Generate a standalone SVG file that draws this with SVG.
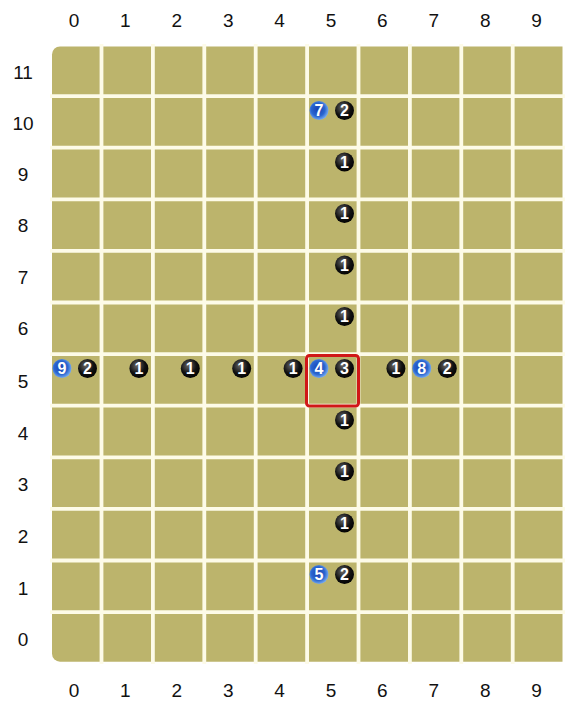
<svg xmlns="http://www.w3.org/2000/svg" width="565" height="701" viewBox="0 0 565 701">
<style>
.lbl{font-family:"Liberation Sans",Arial,sans-serif;font-size:19px;fill:#111;text-anchor:middle}
.gap{stroke:#fdfbe8;stroke-width:3.8}
.num{font-family:"Liberation Sans",Arial,sans-serif;font-size:16px;font-weight:bold;fill:#fff;text-anchor:middle}
.blk{fill:url(#gb)}
.blu{fill:url(#gu)}
</style>
<defs>
<radialGradient id="gb" cx="0.4" cy="0.35" r="0.7">
<stop offset="0" stop-color="#666"/>
<stop offset="0.6" stop-color="#111"/>
<stop offset="1" stop-color="#000"/>
</radialGradient>
<radialGradient id="gu" cx="0.45" cy="0.45" r="0.65">
<stop offset="0" stop-color="#1a40b0"/>
<stop offset="0.55" stop-color="#2a66d0"/>
<stop offset="1" stop-color="#9cccff"/>
</radialGradient>
</defs>
<rect width="565" height="701" fill="#fff"/>
<g id="board">
<path d="M60,46.5 H562.5 V661.7 H60 A8,8 0 0 1 52,653.7 V54.5 A8,8 0 0 1 60,46.5 Z" fill="#bcb46c"/>
<g class="gap">
<line x1="101.5" y1="44" x2="101.5" y2="664"/>
<line x1="152.9" y1="44" x2="152.9" y2="664"/>
<line x1="204.3" y1="44" x2="204.3" y2="664"/>
<line x1="255.7" y1="44" x2="255.7" y2="664"/>
<line x1="307.1" y1="44" x2="307.1" y2="664"/>
<line x1="358.5" y1="44" x2="358.5" y2="664"/>
<line x1="409.9" y1="44" x2="409.9" y2="664"/>
<line x1="461.3" y1="44" x2="461.3" y2="664"/>
<line x1="512.7" y1="44" x2="512.7" y2="664"/>
<line x1="50" y1="96.1" x2="565" y2="96.1"/>
<line x1="50" y1="147.7" x2="565" y2="147.7"/>
<line x1="50" y1="199.3" x2="565" y2="199.3"/>
<line x1="50" y1="250.9" x2="565" y2="250.9"/>
<line x1="50" y1="302.5" x2="565" y2="302.5"/>
<line x1="50" y1="354.1" x2="565" y2="354.1"/>
<line x1="50" y1="405.7" x2="565" y2="405.7"/>
<line x1="50" y1="457.3" x2="565" y2="457.3"/>
<line x1="50" y1="508.9" x2="565" y2="508.9"/>
<line x1="50" y1="560.5" x2="565" y2="560.5"/>
<line x1="50" y1="612.1" x2="565" y2="612.1"/>
</g>
</g>
<g id="col-labels-top">
<text class="lbl" x="74" y="27">0</text><text class="lbl" x="125.4" y="27">1</text><text class="lbl" x="176.8" y="27">2</text><text class="lbl" x="228.2" y="27">3</text><text class="lbl" x="279.6" y="27">4</text><text class="lbl" x="331" y="27">5</text><text class="lbl" x="382.4" y="27">6</text><text class="lbl" x="433.8" y="27">7</text><text class="lbl" x="485.2" y="27">8</text><text class="lbl" x="536.6" y="27">9</text>
</g>
<g id="col-labels-bottom">
<text class="lbl" x="74" y="697">0</text><text class="lbl" x="125.4" y="697">1</text><text class="lbl" x="176.8" y="697">2</text><text class="lbl" x="228.2" y="697">3</text><text class="lbl" x="279.6" y="697">4</text><text class="lbl" x="331" y="697">5</text><text class="lbl" x="382.4" y="697">6</text><text class="lbl" x="433.8" y="697">7</text><text class="lbl" x="485.2" y="697">8</text><text class="lbl" x="536.6" y="697">9</text>
</g>
<g id="row-labels">
<text class="lbl" x="23" y="79">11</text>
<text class="lbl" x="23" y="130">10</text>
<text class="lbl" x="23" y="181">9</text>
<text class="lbl" x="23" y="232">8</text>
<text class="lbl" x="23" y="284">7</text>
<text class="lbl" x="23" y="335">6</text>
<text class="lbl" x="23" y="388">5</text>
<text class="lbl" x="23" y="440">4</text>
<text class="lbl" x="23" y="491">3</text>
<text class="lbl" x="23" y="543">2</text>
<text class="lbl" x="23" y="595">1</text>
<text class="lbl" x="23" y="646">0</text>
</g>
<g id="highlight">
<rect x="306.5" y="355.5" width="52" height="50.5" rx="3" fill="none" stroke="#d01818" stroke-width="3"/>
</g>
<g id="stones">
<g id="s-5-10-a"><circle class="blu" cx="319" cy="110.5" r="9.5"/><text class="num" x="319" y="116.3">7</text></g>
<g id="s-5-10-b"><circle class="blk" cx="344.5" cy="110.5" r="9.5"/><text class="num" x="344.5" y="116.3">2</text></g>
<g id="s-5-9"><circle class="blk" cx="344.5" cy="162" r="9.5"/><text class="num" x="344.5" y="167.8">1</text></g>
<g id="s-5-8"><circle class="blk" cx="344.5" cy="213.5" r="9.5"/><text class="num" x="344.5" y="219.3">1</text></g>
<g id="s-5-7"><circle class="blk" cx="344.5" cy="265" r="9.5"/><text class="num" x="344.5" y="270.8">1</text></g>
<g id="s-5-6"><circle class="blk" cx="344.5" cy="316.5" r="9.5"/><text class="num" x="344.5" y="322.3">1</text></g>
<g id="s-0-5-a"><circle class="blu" cx="62" cy="368.5" r="9.5"/><text class="num" x="62" y="374.3">9</text></g>
<g id="s-0-5-b"><circle class="blk" cx="87.5" cy="368.5" r="9.5"/><text class="num" x="87.5" y="374.3">2</text></g>
<g id="s-1-5"><circle class="blk" cx="138.9" cy="368.5" r="9.5"/><text class="num" x="138.9" y="374.3">1</text></g>
<g id="s-2-5"><circle class="blk" cx="190.3" cy="368.5" r="9.5"/><text class="num" x="190.3" y="374.3">1</text></g>
<g id="s-3-5"><circle class="blk" cx="241.7" cy="368.5" r="9.5"/><text class="num" x="241.7" y="374.3">1</text></g>
<g id="s-4-5"><circle class="blk" cx="293.1" cy="368.5" r="9.5"/><text class="num" x="293.1" y="374.3">1</text></g>
<g id="s-5-5-a"><circle class="blu" cx="319" cy="368.5" r="9.5"/><text class="num" x="319" y="374.3">4</text></g>
<g id="s-5-5-b"><circle class="blk" cx="344.5" cy="368.5" r="9.5"/><text class="num" x="344.5" y="374.3">3</text></g>
<g id="s-6-5"><circle class="blk" cx="395.9" cy="368.5" r="9.5"/><text class="num" x="395.9" y="374.3">1</text></g>
<g id="s-7-5-a"><circle class="blu" cx="421.8" cy="368.5" r="9.5"/><text class="num" x="421.8" y="374.3">8</text></g>
<g id="s-7-5-b"><circle class="blk" cx="447.3" cy="368.5" r="9.5"/><text class="num" x="447.3" y="374.3">2</text></g>
<g id="s-5-4"><circle class="blk" cx="344.5" cy="420" r="9.5"/><text class="num" x="344.5" y="425.8">1</text></g>
<g id="s-5-3"><circle class="blk" cx="344.5" cy="471.5" r="9.5"/><text class="num" x="344.5" y="477.3">1</text></g>
<g id="s-5-2"><circle class="blk" cx="344.5" cy="523" r="9.5"/><text class="num" x="344.5" y="528.8">1</text></g>
<g id="s-5-1-a"><circle class="blu" cx="319" cy="574.5" r="9.5"/><text class="num" x="319" y="580.3">5</text></g>
<g id="s-5-1-b"><circle class="blk" cx="344.5" cy="574.5" r="9.5"/><text class="num" x="344.5" y="580.3">2</text></g>
</g>
</svg>
